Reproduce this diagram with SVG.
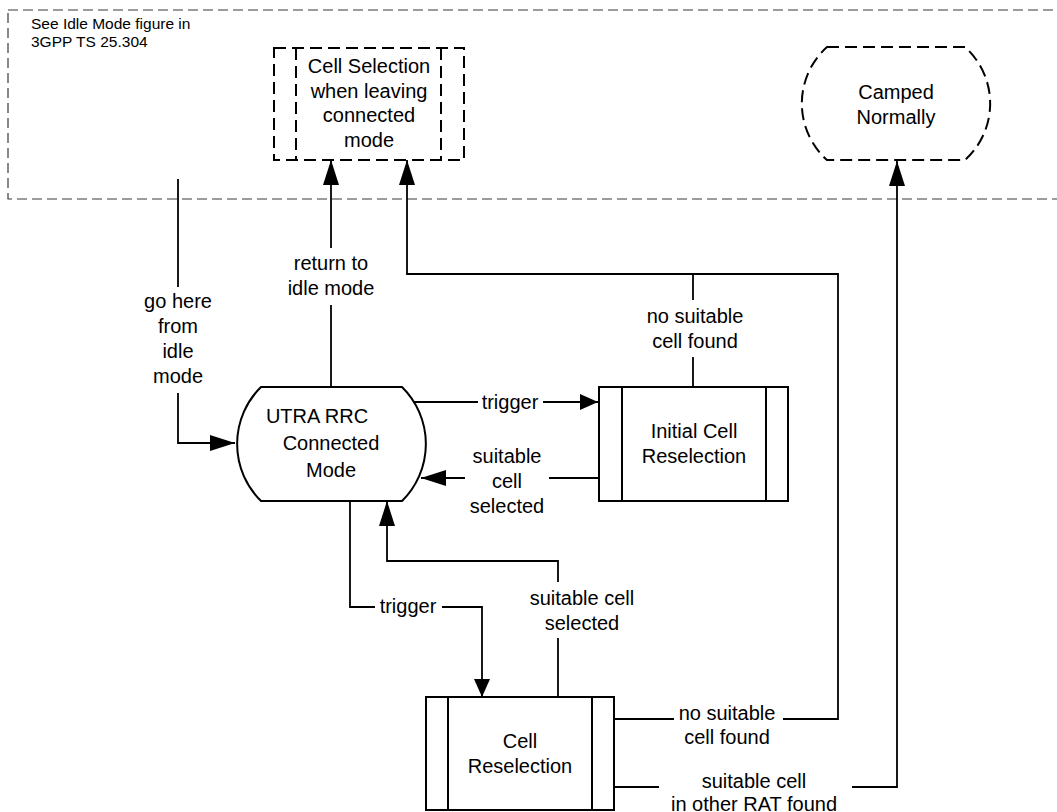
<svg xmlns="http://www.w3.org/2000/svg" width="1057" height="812" viewBox="0 0 1057 812">
<style>
  .t { font-family: "Liberation Sans", Arial, sans-serif; font-size: 20px; fill: #000; text-anchor: middle; }
  .s { font-family: "Liberation Sans", Arial, sans-serif; font-size: 15.5px; fill: #000; }
  .box { fill: #fff; stroke: #000; stroke-width: 2; }
  .dbox { fill: none; stroke: #000; stroke-width: 2; stroke-dasharray: 12 6; }
  .frame { fill: none; stroke: #3a3a3a; stroke-width: 1.2; stroke-dasharray: 10 5; }
  .c { fill: none; stroke: #000; stroke-width: 1.8; }
</style>
<defs>
  <marker id="ah" markerUnits="userSpaceOnUse" viewBox="0 0 25 16" markerWidth="25" markerHeight="16" refX="25" refY="8" orient="auto">
    <path d="M0,0 L25,8 L0,16 Z" fill="#000"/>
  </marker>
  <marker id="ahs" markerUnits="userSpaceOnUse" viewBox="0 0 18 16" markerWidth="18" markerHeight="16" refX="18" refY="8" orient="auto">
    <path d="M0,0 L18,8 L0,16 Z" fill="#000"/>
  </marker>
</defs>

<g id="idle-frame">
  <rect class="frame" x="8" y="10" width="1070" height="189"/>
  <text class="s" x="31" y="29">See Idle Mode figure in</text>
  <text class="s" x="31" y="47">3GPP TS 25.304</text>
</g>

<g id="connectors">
  <!-- go here from idle mode -->
  <path class="c" d="M178,179 V287"/>
  <path class="c" d="M178,393 V443 H235" marker-end="url(#ah)"/>
  <text class="t" x="178" y="308">go here</text>
  <text class="t" x="178" y="333">from</text>
  <text class="t" x="178" y="358">idle</text>
  <text class="t" x="178" y="383">mode</text>

  <!-- return to idle mode -->
  <path class="c" d="M331,387 V305"/>
  <path class="c" d="M331,248 V160" marker-end="url(#ah)"/>
  <text class="t" x="331" y="270">return to</text>
  <text class="t" x="331" y="295">idle mode</text>

  <!-- trigger to Initial Cell Reselection -->
  <path class="c" d="M413,402 H478"/>
  <path class="c" d="M543,402 H598" marker-end="url(#ahs)"/>
  <text class="t" x="510" y="409">trigger</text>

  <!-- suitable cell selected from Initial Cell Reselection -->
  <path class="c" d="M599,478 H549"/>
  <path class="c" d="M465,478 H421" marker-end="url(#ah)"/>
  <text class="t" x="507" y="463">suitable</text>
  <text class="t" x="507" y="488">cell</text>
  <text class="t" x="507" y="513">selected</text>

  <!-- no suitable cell found from Initial Cell Reselection -->
  <path class="c" d="M693,387 V357"/>
  <path class="c" d="M693,300 V274"/>
  <text class="t" x="695" y="323">no suitable</text>
  <text class="t" x="695" y="348">cell found</text>

  <!-- no suitable cell found from Cell Reselection -->
  <path class="c" d="M614,719 H674"/>
  <path class="c" d="M783,719 H838 V274 H407 V160" marker-end="url(#ah)"/>
  <text class="t" x="727" y="720">no suitable</text>
  <text class="t" x="727" y="744">cell found</text>

  <!-- trigger to Cell Reselection -->
  <path class="c" d="M350,501 V607 H375"/>
  <path class="c" d="M442,607 H482 V697" marker-end="url(#ahs)"/>
  <text class="t" x="408" y="613">trigger</text>

  <!-- suitable cell selected from Cell Reselection -->
  <path class="c" d="M558,697 V638"/>
  <path class="c" d="M558,582 V561 H387 V501" marker-end="url(#ah)"/>
  <text class="t" x="582" y="605">suitable cell</text>
  <text class="t" x="582" y="630">selected</text>

  <!-- suitable cell in other RAT found -->
  <path class="c" d="M614,787 H659"/>
  <path class="c" d="M852,787 H897 V161" marker-end="url(#ah)"/>
  <text class="t" x="754" y="788">suitable cell</text>
  <text class="t" x="754" y="811">in other RAT found</text>
</g>

<g id="cell-selection">
  <rect class="dbox" x="274" y="48" width="190" height="112"/>
  <line class="dbox" x1="296" y1="48" x2="296" y2="160"/>
  <line class="dbox" x1="441" y1="48" x2="441" y2="160"/>
  <text class="t" x="369" y="73">Cell Selection</text>
  <text class="t" x="369" y="97.5">when leaving</text>
  <text class="t" x="369" y="122">connected</text>
  <text class="t" x="369" y="146.5">mode</text>
</g>

<g id="camped-normally">
  <path class="dbox" d="M827,47 H965 A76,76 0 0 1 965,160 H827 A76,76 0 0 1 827,47 Z"/>
  <text class="t" x="896" y="99">Camped</text>
  <text class="t" x="896" y="124">Normally</text>
</g>

<g id="utra-rrc-connected">
  <path class="box" d="M261,387 H402 A80,80 0 0 1 402,501 H261 A80,80 0 0 1 261,387 Z"/>
  <text class="t" x="317" y="423">UTRA RRC</text>
  <text class="t" x="331" y="450">Connected</text>
  <text class="t" x="331" y="477">Mode</text>
</g>

<g id="initial-cell-reselection">
  <rect class="box" x="599" y="387" width="189" height="114"/>
  <line class="box" x1="622" y1="387" x2="622" y2="501"/>
  <line class="box" x1="766" y1="387" x2="766" y2="501"/>
  <text class="t" x="694" y="438">Initial Cell</text>
  <text class="t" x="694" y="463">Reselection</text>
</g>

<g id="cell-reselection">
  <rect class="box" x="426" y="697" width="188" height="113"/>
  <line class="box" x1="448" y1="697" x2="448" y2="810"/>
  <line class="box" x1="592" y1="697" x2="592" y2="810"/>
  <text class="t" x="520" y="748">Cell</text>
  <text class="t" x="520" y="773">Reselection</text>
</g>
</svg>
